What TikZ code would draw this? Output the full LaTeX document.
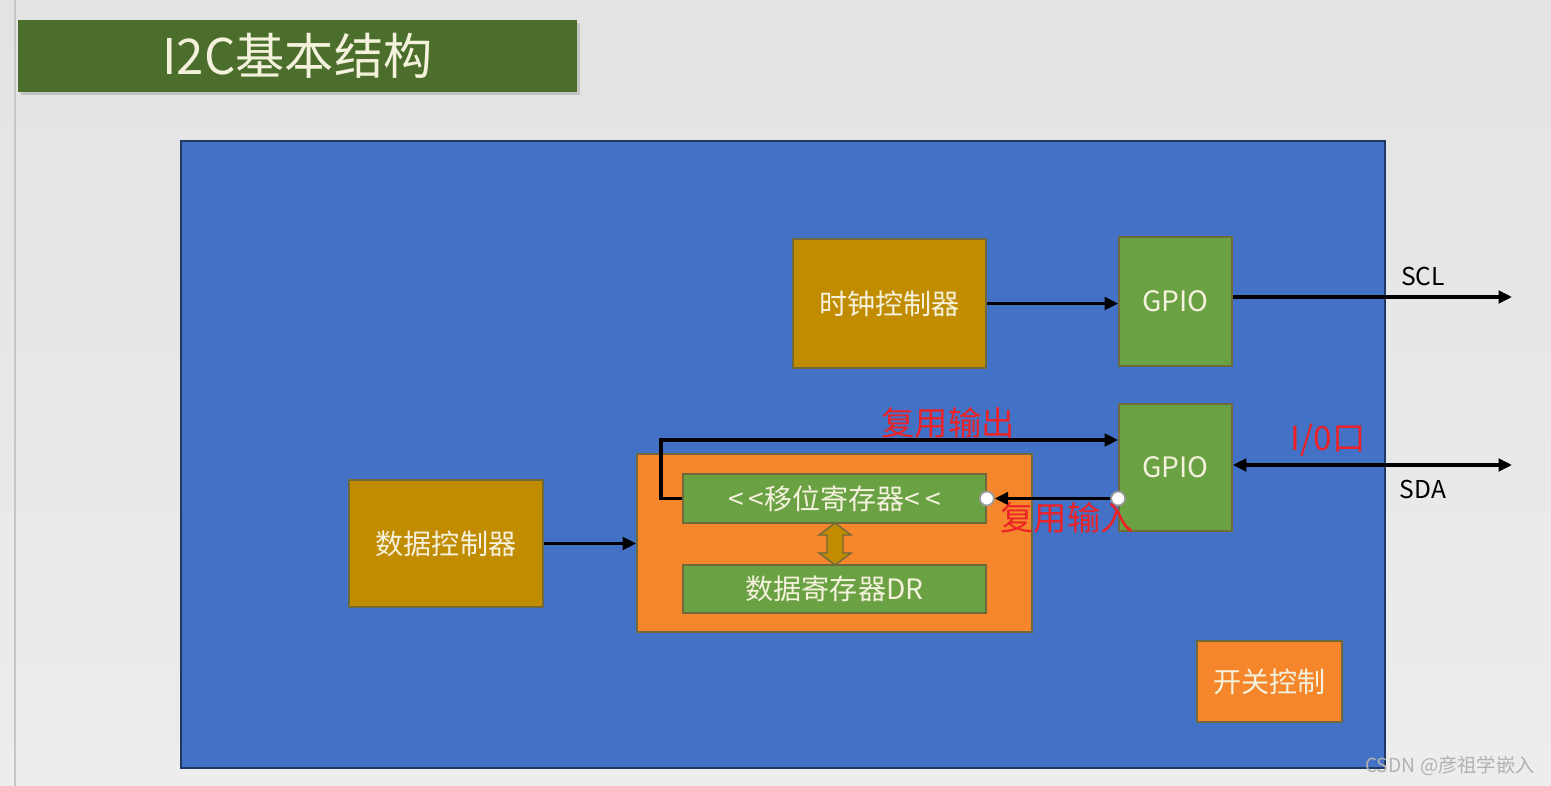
\documentclass[tikz,border=0pt]{standalone}
\usepackage{fontspec}
\setmainfont{Noto Sans CJK SC}
\usepackage{xcolor}
\usetikzlibrary{arrows.meta, positioning, calc}

\definecolor{slidebg}{HTML}{EDEDED}
\definecolor{titlegreen}{HTML}{4B6E2C}
\definecolor{chipblue}{HTML}{4271C6}
\definecolor{chipedge}{HTML}{1F3864}
\definecolor{ctrlgold}{HTML}{C28C00}
\definecolor{gpiogreen}{HTML}{6AA143}
\definecolor{regorange}{HTML}{F5862C}
\definecolor{boxedge}{HTML}{6E6A3C}
\definecolor{labelred}{HTML}{EC2227}
\definecolor{cream}{HTML}{F4F1DC}

\begin{document}
\begin{tikzpicture}[
  x=0.02cm, y=-0.02cm,
  box/.style={rectangle, draw=boxedge, line width=1pt, inner sep=0pt,
              text=cream, font=\fontsize{16}{18}\selectfont},
  ctrl/.style={box, fill=ctrlgold},
  gpio/.style={box, fill=gpiogreen, minimum width=2.26cm},
  reg/.style={box, fill=gpiogreen, minimum width=6.06cm, minimum height=0.97cm},
  redlabel/.style={text=labelred, font=\fontsize{19}{21}\selectfont, inner sep=0pt},
  pinlabel/.style={text=black, font=\fontsize{14}{16}\selectfont, inner sep=0pt},
  pindot/.style={circle, draw=gray!80, fill=white, line width=1pt,
                 minimum size=0.28cm, inner sep=0pt},
  arrow/.style={-{Triangle[length=0.27cm, width=0.25cm]}, line width=2.2pt},
  dblarrow/.style={{Triangle[length=0.27cm, width=0.25cm]}-{Triangle[length=0.27cm, width=0.25cm]}, line width=2.2pt},
]
  % slide background
  \fill[top color=gray!22, bottom color=slidebg] (0,0) rectangle (1551,786);
  \useasboundingbox (0,0) rectangle (1551,786);
  \draw[gray!45, line width=0.6pt] (15,0) -- (15,786);

  % title bar
  \fill[black!35, opacity=0.5] (21,23) rectangle (580,95);
  \node[rectangle, fill=titlegreen, minimum width=11.18cm, minimum height=1.44cm,
        text=cream, font=\fontsize{28}{30}\selectfont] (title) at (297.5,56) {I2C基本结构};

  % chip body
  \node[rectangle, draw=chipedge, line width=1.2pt, fill=chipblue,
        minimum width=24.08cm, minimum height=12.54cm] (chip) at (783,454.5) {};

  \node[ctrl, minimum width=3.86cm, minimum height=2.58cm] (clk) at (889.5,303.5) {时钟控制器};
  \node[gpio, minimum height=2.58cm] (gpioa) at (1175.5,301.5) {GPIO};
  \node[gpio, minimum height=2.54cm] (gpiob) at (1175.5,467.5) {GPIO};
  \node[ctrl, minimum width=3.88cm, minimum height=2.54cm] (dctl) at (446,543.5) {数据控制器};

  \node[box, fill=regorange, minimum width=7.9cm, minimum height=3.56cm] (dblock) at (834.5,543) {};
  \node[reg] (shift) at (834.5,498.5) {{<}\,{<}移位寄存器{<}\,{<}};
  \node[reg] (dr) at (834.5,589) {数据寄存器DR};

  % exchange arrow between the two registers
  \filldraw[fill=ctrlgold, draw=boxedge, line width=0.8pt]
    (827,535) -- (819,535) -- (835,523) -- (851,535) -- (843,535)
    -- (843,553) -- (851,553) -- (835,565) -- (819,553) -- (827,553) -- cycle;

  \node[box, fill=regorange, minimum width=2.9cm, minimum height=1.62cm] (sw) at (1269.5,681.5) {开关控制};

  % connections
  \draw[arrow] (clk.east) -- (clk.east -| gpioa.west);
  \draw[arrow] (dctl.east) -- (dblock.west |- dctl.east);

  \coordinate (scl) at (1512,297);
  \coordinate (sda) at (1512,465);
  \draw[arrow] (gpioa.east |- scl) -- (scl);
  \draw[dblarrow] (gpiob.east |- sda) -- (sda);

  \coordinate (outbend) at (661,440);
  \draw[arrow] (shift.west) -| (outbend) -- (outbend -| gpiob.west);

  \node[pindot] (inb) at (gpiob.west |- shift.east) {};
  \node[pindot] (ina) at (shift.east) {};
  \draw[arrow] (inb) -- (ina);

  % labels
  \node[pinlabel] (scllabel) at (1423,276) {SCL};
  \node[pinlabel] (sdalabel) at (1423,489) {SDA};
  \node[redlabel] (outlabel) at (948,423) {复用输出};
  \node[redlabel] (inlabel) at (1067,518) {复用输入};
  \node[redlabel] (iolabel) at (1328,440) {I/0口};

  \node[text=gray!60, font=\fontsize{11}{13}\selectfont, inner sep=0pt] (mark) at (1450,766) {CSDN @彦祖学嵌入};
\end{tikzpicture}
\end{document}
